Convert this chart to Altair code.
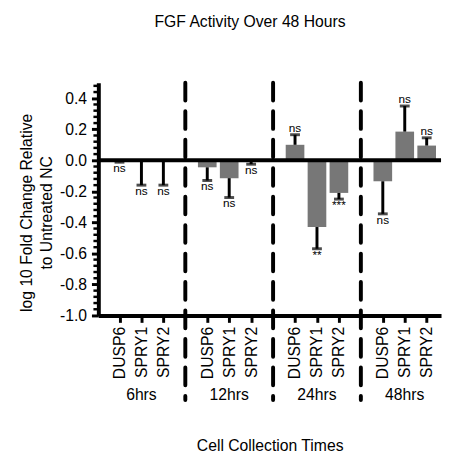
import altair as alt
import pandas as pd

FONT = "Liberation Sans"

genes = ["DUSP6", "SPRY1", "SPRY2"] * 4
slots = [0, 1, 2, 4, 5, 6, 8, 9, 10, 12, 13, 14]
means = [-0.008, -0.01, -0.006, -0.045, -0.115, -0.01, 0.10, -0.43, -0.21, -0.135, 0.185, 0.095]
err_ends = [-0.012, -0.16, -0.16, -0.13, -0.24, -0.025, 0.165, -0.57, -0.25, -0.345, 0.35, 0.145]
sig = ["ns", "ns", "ns", "ns", "ns", "ns", "ns", "**", "***", "ns", "ns", "ns"]

times = ["6hrs", "12hrs", "24hrs", "48hrs"]
time_slots = [1, 5, 9, 13]
separators = [3, 7, 11]

major_ticks = [-1.0, -0.8, -0.6, -0.4, -0.2, 0.0, 0.2, 0.4]
minor_ticks = [-0.96, -0.92, -0.88, -0.84, -0.76, -0.72, -0.68, -0.64,
               -0.56, -0.52, -0.48, -0.44, -0.36, -0.32, -0.28, -0.24,
               -0.16, -0.12, -0.08, -0.04, 0.04, 0.08, 0.12, 0.16,
               0.24, 0.28, 0.32, 0.36, 0.44, 0.48]

df = pd.DataFrame({"slot": slots, "gene": genes, "val": means, "err": err_ends, "sig": sig})
df_neg = df[df["err"] < 0]
df_pos = df[df["err"] >= 0]
df_time = pd.DataFrame({"slot": time_slots, "time": times})
df_sep = pd.DataFrame({"slot": separators})
df_zero = pd.DataFrame({"val": [0.0]})
df_minor = pd.DataFrame({"val": minor_ticks})

xs = alt.Scale(domain=[-0.74, 14.43], nice=False, zero=False)
ys = alt.Scale(domain=[-1.0, 0.5], nice=False, zero=False)

x_axis = alt.Axis(
    values=slots,
    labelExpr="['DUSP6','SPRY1','SPRY2'][datum.value % 4]",
    labelAngle=270, labelAlign="right", labelBaseline="middle",
    labelFont=FONT, labelFontSize=16, labelColor="black", labelPadding=4,
    tickSize=7, tickWidth=3, tickColor="black",
    domainWidth=4, domainColor="black", grid=False,
    title="Cell Collection Times", titleFont=FONT, titleFontSize=16,
    titleFontWeight="normal", titleColor="black",
    titleY=133, titleBaseline="middle",
)
y_axis = alt.Axis(
    values=major_ticks,
    labelExpr="datum.value < 0 ? '-' + format(-datum.value, '.1f') : format(datum.value, '.1f')",
    labelFont=FONT, labelFontSize=16, labelColor="black", labelPadding=5,
    tickSize=7, tickWidth=3, tickColor="black",
    domainWidth=4, domainColor="black", grid=False,
    title=["log 10 Fold Change Relative", "to Untreated NC"],
    titleFont=FONT, titleFontSize=16, titleFontWeight="normal", titleColor="black",
    titleAngle=270, titleX=-73, titleY=132, titleBaseline="middle", titleAlign="center",
    titleLineHeight=20,
)


def X(field):
    return alt.X(field, scale=xs, axis=x_axis)


def Y(field):
    return alt.Y(field, scale=ys, axis=y_axis)


bars = alt.Chart(df).mark_bar(size=19, color="#777777").encode(
    x=X("slot:Q"),
    y=Y("val:Q"),
)

zero = alt.Chart(df_zero).mark_rule(strokeWidth=4, color="black").encode(
    y=Y("val:Q"),
)

stems = alt.Chart(df).mark_rule(strokeWidth=3, color="black").encode(
    x=X("slot:Q"),
    y=Y("val:Q"),
    y2="err:Q",
)

caps = alt.Chart(df).mark_tick(orient="horizontal", size=10, thickness=3, color="black").encode(
    x=X("slot:Q"),
    y=Y("err:Q"),
)

seps = alt.Chart(df_sep).mark_rule(strokeWidth=4, color="black", strokeDash=[18, 11], strokeCap="round").encode(
    x=X("slot:Q"),
    y=alt.value(0),
    y2=alt.value(323),
)

minor = alt.Chart(df_minor).mark_rule(strokeWidth=2.5, color="black").encode(
    y=Y("val:Q"),
    x=alt.value(-5),
    x2=alt.value(0),
)

lab_neg = alt.Chart(df_neg).mark_text(font=FONT, fontSize=12, baseline="top", dy=1, color="black").encode(
    x=X("slot:Q"),
    y=Y("err:Q"),
    text="sig:N",
)

lab_pos = alt.Chart(df_pos).mark_text(font=FONT, fontSize=12, baseline="alphabetic", dy=-3, color="black").encode(
    x=X("slot:Q"),
    y=Y("err:Q"),
    text="sig:N",
)

time_lab = alt.Chart(df_time).mark_text(font=FONT, fontSize=16, baseline="middle", color="black").encode(
    x=X("slot:Q"),
    y=alt.value(318),
    text="time:N",
)

chart = alt.layer(bars, stems, caps, zero, minor, seps, lab_neg, lab_pos, time_lab).properties(
    width=349,
    height=237,
    title=alt.TitleParams("FGF Activity Over 48 Hours", font=FONT, fontSize=16, fontWeight="normal",
                          color="black", anchor="middle", dx=-20, offset=52),
    padding={"left": 92, "top": 72, "right": 2, "bottom": 139},
    autosize=alt.AutoSizeParams(type="none"),
).configure(background="white").configure_view(stroke=None)

chart.save("out.html", embed_options={"renderer": "svg", "actions": False})
